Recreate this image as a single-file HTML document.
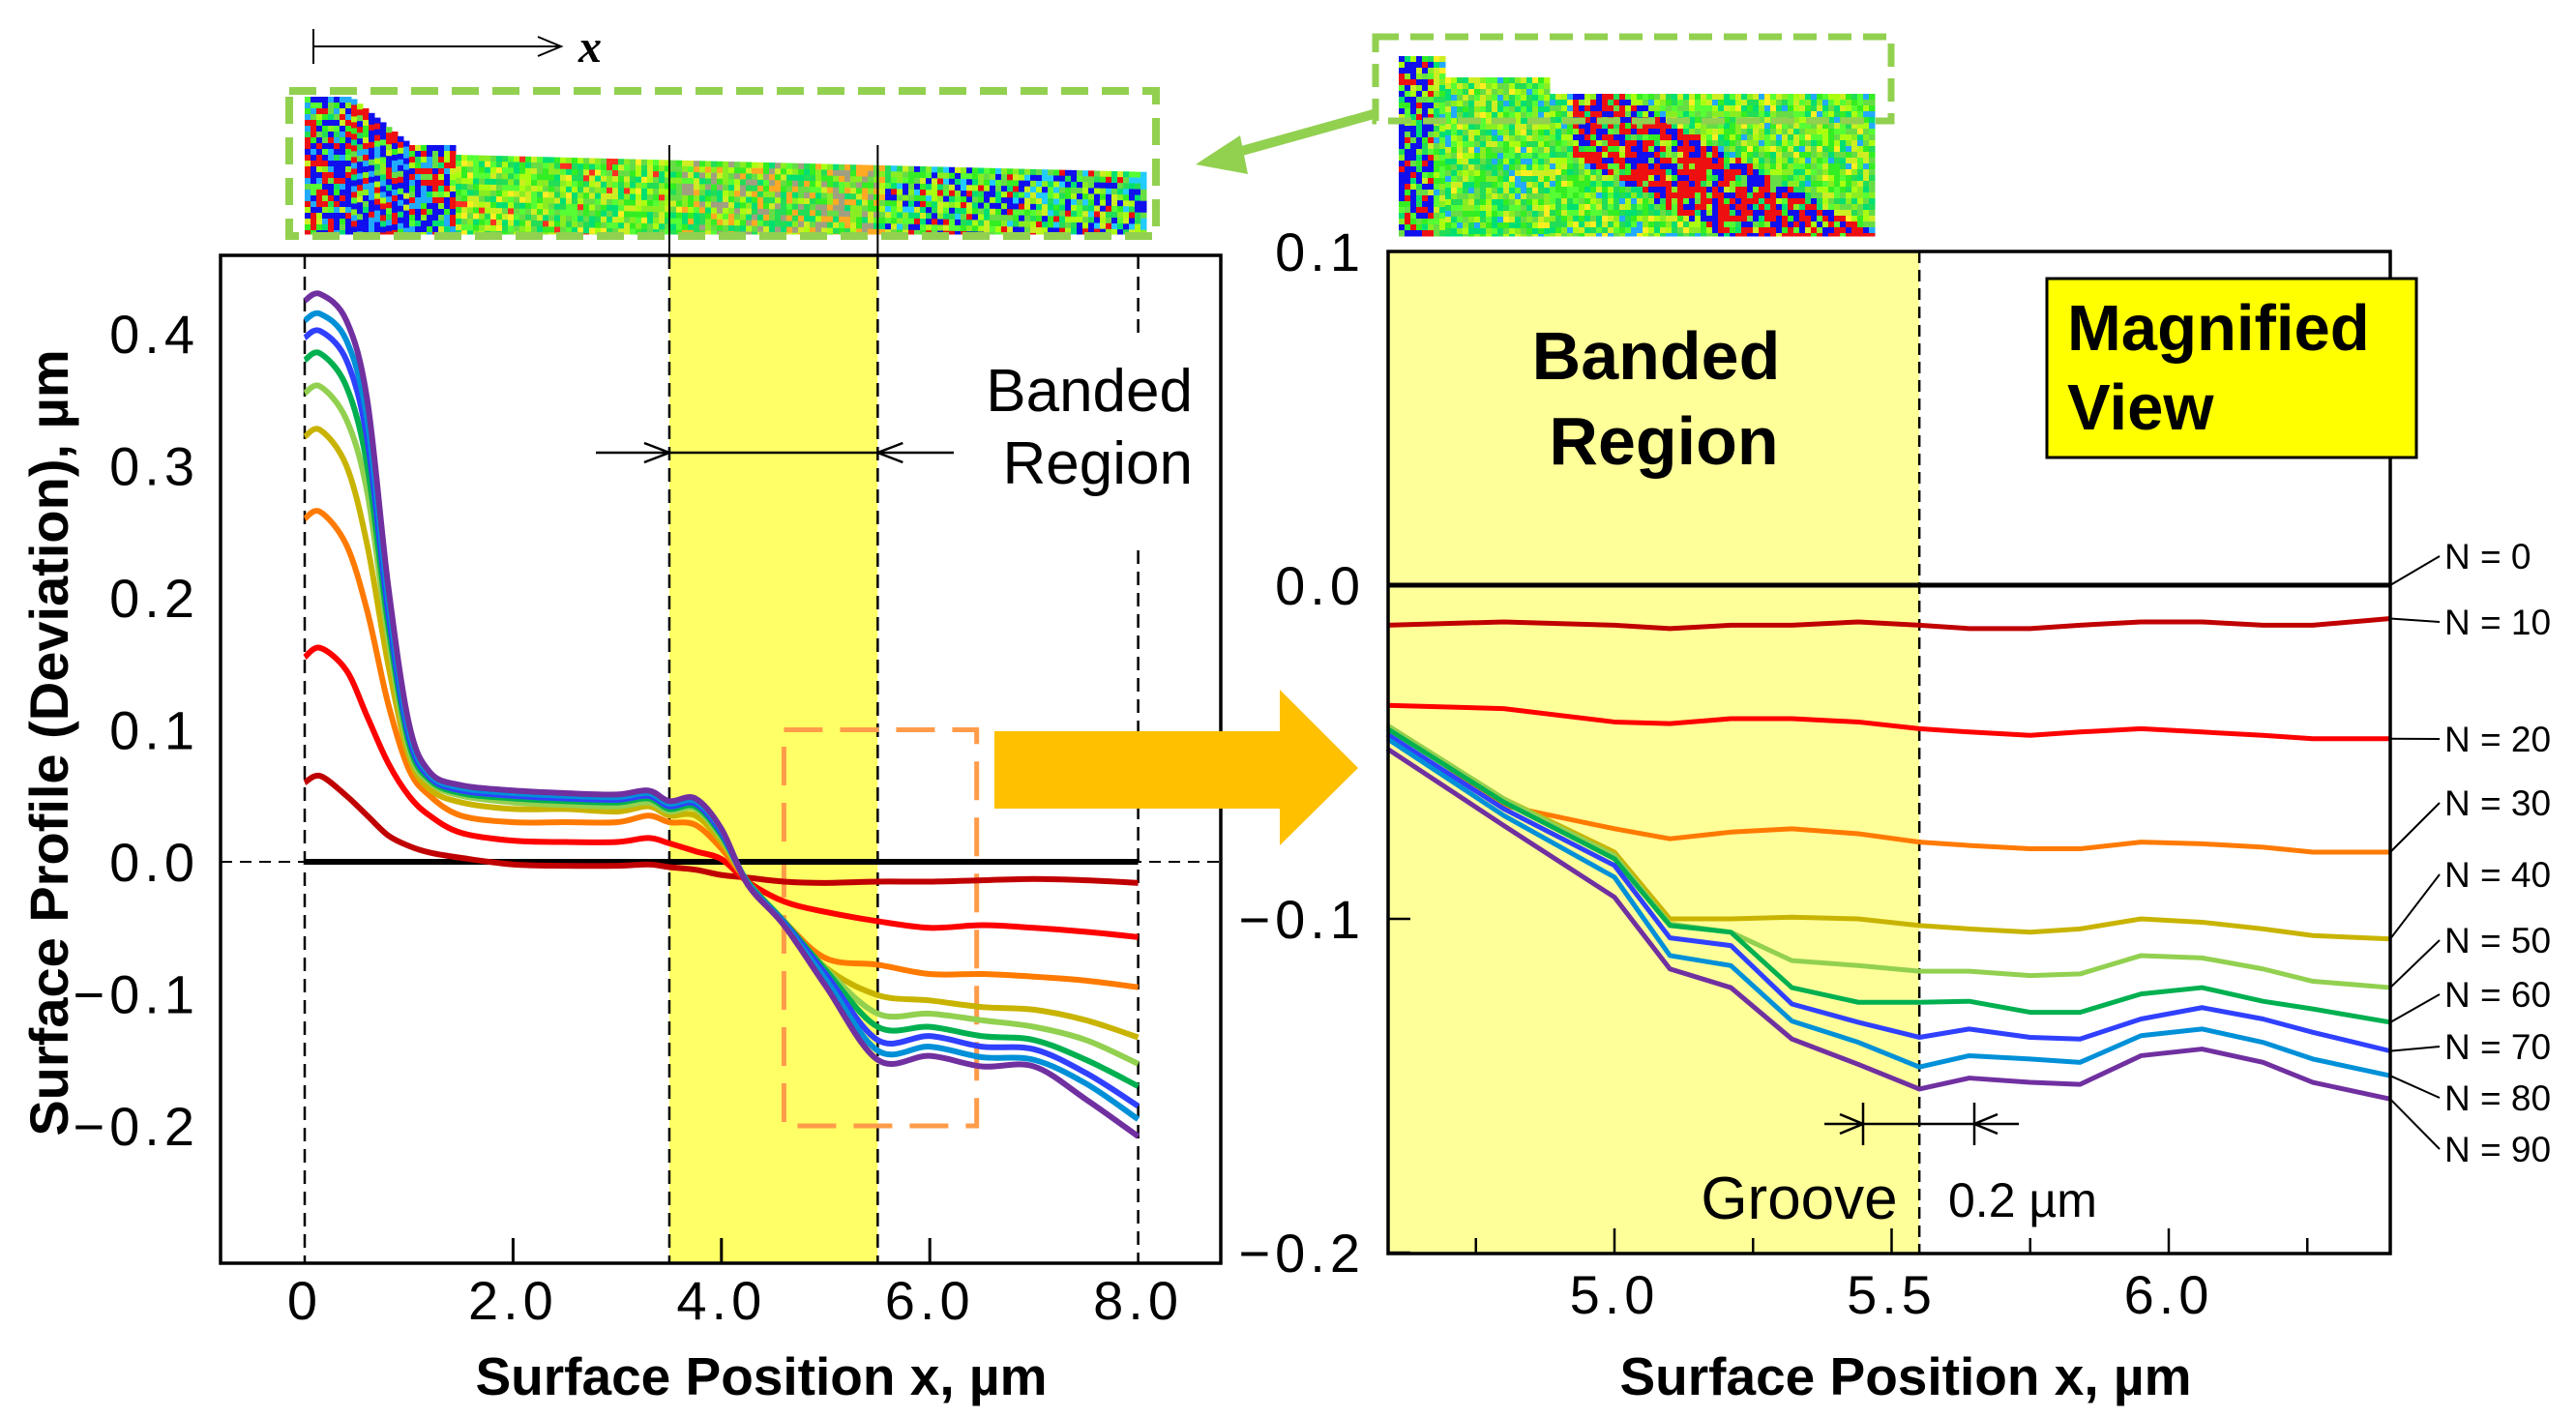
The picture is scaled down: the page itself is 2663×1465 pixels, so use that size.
<!DOCTYPE html>
<html><head><meta charset="utf-8">
<style>
html,body{margin:0;padding:0;background:#fff;}
svg{display:block;font-family:"Liberation Sans",Arial,sans-serif;}
</style></head>
<body>
<svg id="fig" width="2663" height="1465" viewBox="0 0 2663 1465" xmlns="http://www.w3.org/2000/svg">
  <g id="strips"></g>
  <line x1="324" y1="48" x2="578" y2="48" stroke="#000" stroke-width="2"/>
  <line x1="324" y1="30" x2="324" y2="66" stroke="#000" stroke-width="2"/>
  <path d="M556,38 L580,48 L556,58" fill="none" stroke="#000" stroke-width="2"/>
  <text x="598" y="64" font-family="Liberation Serif,serif" font-style="italic" font-weight="bold" font-size="48">x</text>
  <rect x="299" y="94" width="896" height="150" fill="none" stroke="#92d050" stroke-width="8" stroke-dasharray="28,14"/>
  <rect x="1422" y="38" width="533" height="87" fill="none" stroke="#92d050" stroke-width="7" stroke-dasharray="24,12"/>
  <line x1="1420" y1="118" x2="1262" y2="162" stroke="#92d050" stroke-width="10"/>
  <path d="M1236,170 L1282,140 L1290,180 Z" fill="#92d050"/>

  <g id="left"></g>
  <g id="right"></g>

  <path d="M1028,756 L1323,756 L1323,713 L1404,794 L1323,874 L1323,836 L1028,836 Z" fill="#ffc000"/>
</svg>
<script>
// ---------------- LEFT CHART DATA ----------------
const leftX = [0,0.15,0.4,0.6,0.8,1.0,1.2,1.5,2.0,2.5,3.0,3.3,3.5,3.75,4.0,4.25,4.6,5.0,5.5,6.0,6.5,7.0,7.5,8.0];
const leftN10 = [0.06,0.065,0.05,0.035,0.02,0.012,0.007,0.003,-0.002,-0.003,-0.003,-0.002,-0.004,-0.006,-0.01,-0.012,-0.015,-0.016,-0.015,-0.015,-0.014,-0.013,-0.014,-0.016];
const leftN20 = [0.155,0.162,0.145,0.11,0.075,0.05,0.035,0.022,0.016,0.015,0.015,0.018,0.014,0.008,0.002,-0.015,-0.03,-0.038,-0.045,-0.05,-0.048,-0.05,-0.053,-0.057];
const leftN30 = [0.26,0.265,0.24,0.19,0.12,0.07,0.05,0.035,0.03,0.03,0.03,0.035,0.03,0.028,0.01,-0.015,-0.045,-0.073,-0.078,-0.085,-0.085,-0.087,-0.09,-0.095];
const leftN40 = [0.322,0.327,0.3,0.24,0.15,0.08,0.055,0.045,0.04,0.04,0.038,0.042,0.035,0.035,0.015,-0.015,-0.045,-0.08,-0.101,-0.105,-0.11,-0.112,-0.12,-0.133];
const leftN50 = [0.355,0.36,0.335,0.28,0.17,0.085,0.06,0.05,0.045,0.043,0.042,0.045,0.038,0.04,0.018,-0.015,-0.045,-0.081,-0.115,-0.115,-0.12,-0.125,-0.135,-0.153];
const leftN60 = [0.38,0.385,0.36,0.3,0.18,0.09,0.062,0.052,0.048,0.046,0.045,0.048,0.04,0.042,0.02,-0.015,-0.045,-0.082,-0.125,-0.125,-0.132,-0.135,-0.15,-0.17];
const leftN70 = [0.397,0.402,0.38,0.32,0.19,0.095,0.064,0.054,0.05,0.048,0.047,0.05,0.042,0.044,0.022,-0.016,-0.046,-0.085,-0.135,-0.132,-0.14,-0.142,-0.16,-0.185];
const leftN80 = [0.41,0.415,0.395,0.335,0.2,0.1,0.066,0.056,0.052,0.05,0.049,0.052,0.044,0.046,0.024,-0.016,-0.047,-0.089,-0.143,-0.14,-0.148,-0.15,-0.168,-0.195];
const leftN90 = [0.425,0.43,0.41,0.35,0.21,0.105,0.068,0.058,0.054,0.052,0.051,0.054,0.046,0.048,0.025,-0.017,-0.048,-0.094,-0.15,-0.147,-0.155,-0.155,-0.18,-0.208];
const leftYTicks = [0.4,0.3,0.2,0.1,0.0,-0.1,-0.2];
const leftYTickLabels = ["0.4","0.3","0.2","0.1","0.0","\u22120.1","\u22120.2"];
const leftXTicks = [0,2,4,6,8];
const leftXTickLabels = ["0","2.0","4.0","6.0","8.0"];

// ---------------- RIGHT CHART DATA ----------------
const rightX = [4.59,4.80,5.0,5.10,5.21,5.32,5.44,5.55,5.64,5.75,5.84,5.95,6.06,6.17,6.26,6.40];
const rightN10 = [-0.012,-0.011,-0.012,-0.013,-0.012,-0.012,-0.011,-0.012,-0.013,-0.013,-0.012,-0.011,-0.011,-0.012,-0.012,-0.010];
const rightN20 = [-0.036,-0.037,-0.041,-0.0415,-0.040,-0.040,-0.041,-0.043,-0.044,-0.045,-0.044,-0.043,-0.044,-0.045,-0.046,-0.046];
const rightN30 = [-0.042,-0.066,-0.073,-0.076,-0.074,-0.073,-0.0745,-0.077,-0.078,-0.079,-0.079,-0.077,-0.0775,-0.0785,-0.080,-0.080];
const rightN40 = [-0.042,-0.064,-0.080,-0.100,-0.100,-0.0995,-0.100,-0.102,-0.103,-0.104,-0.103,-0.100,-0.101,-0.103,-0.105,-0.106];
const rightN50 = [-0.042,-0.064,-0.081,-0.1015,-0.104,-0.1125,-0.114,-0.1157,-0.1157,-0.117,-0.1165,-0.111,-0.1117,-0.115,-0.1187,-0.1206];
const rightN60 = [-0.043,-0.065,-0.082,-0.102,-0.104,-0.1206,-0.125,-0.125,-0.1247,-0.128,-0.128,-0.1225,-0.1206,-0.1247,-0.127,-0.131];
const rightN70 = [-0.0447,-0.067,-0.084,-0.1057,-0.108,-0.1255,-0.131,-0.1355,-0.133,-0.1355,-0.136,-0.130,-0.1266,-0.130,-0.134,-0.1396];
const rightN80 = [-0.046,-0.069,-0.0875,-0.111,-0.114,-0.1306,-0.137,-0.1444,-0.141,-0.142,-0.143,-0.135,-0.133,-0.137,-0.142,-0.147];
const rightN90 = [-0.049,-0.072,-0.0935,-0.115,-0.1206,-0.136,-0.1436,-0.151,-0.1477,-0.149,-0.1496,-0.141,-0.139,-0.143,-0.149,-0.154];
const rightYTicks = [0.1,0.0,-0.1,-0.2];
const rightYTickLabels = ["0.1","0.0","\u22120.1","\u22120.2"];
const rightXTicks = [4.75,5.0,5.25,5.5,5.75,6.0,6.25];
const rightXTickLabels = ["","5.0","","5.5","","6.0",""];
const seriesNames = ["N = 0","N = 10","N = 20","N = 30","N = 40","N = 50","N = 60","N = 70","N = 80","N = 90"];
const labelY = [575,643,764,830,904,972,1028,1082,1135,1188];

const colors = ["#000000","#c00000","#ff0000","#ff7a00","#c8b400","#92d050","#00b050","#3040ff","#0090d8","#7030a0"];
const NS = "http://www.w3.org/2000/svg";
function mk(parent, tag, attrs, txt){const e=document.createElementNS(NS,tag);for(const k in attrs)e.setAttribute(k,attrs[k]);if(txt!==undefined)e.textContent=txt;parent.appendChild(e);return e;}

// ---------- LEFT ----------
const L = document.getElementById('left');
const lx = v => 315 + v*107.7;
const ly = v => 891 - v*1365;
let e;
e = mk(L,'rect',{x:lx(3.5),y:264,width:lx(5.5)-lx(3.5),height:1306-264,fill:'#ffff66'});


[[0,264,1306],[3.5,264,1306],[5.5,264,1306]].forEach(d=>{
  e=mk(L,'line',{x1:lx(d[0]),y1:d[1],x2:lx(d[0]),y2:d[2],stroke:'#000','stroke-width':2.5,'stroke-dasharray':'14,8'});
  
  
});
[[264,348],[569,1306]].forEach(s=>{
  e=mk(L,'line',{x1:lx(8),y1:s[0],x2:lx(8),y2:s[1],stroke:'#000','stroke-width':2.5,'stroke-dasharray':'14,8'});
  
  
});
[3.5,5.5].forEach(v=>{
  e=mk(L,'line',{x1:lx(v),y1:150,x2:lx(v),y2:264,stroke:'#000','stroke-width':2});
  
  
});
e=mk(L,'line',{x1:228,y1:ly(0),x2:1262,y2:ly(0),stroke:'#000','stroke-width':2,'stroke-dasharray':'12,8'});


e=mk(L,'rect',{x:lx(4.6),y:ly(0.1),width:lx(6.45)-lx(4.6),height:ly(-0.2)-ly(0.1),fill:'none',stroke:'#ff9c4a','stroke-width':5,'stroke-dasharray':'40,18'});


function smooth(xs,ys,fx,fy){
  const p=xs.map((x,i)=>[fx(x),fy(ys[i])]);
  let d=`M${p[0][0]},${p[0][1]}`;
  for(let i=0;i<p.length-1;i++){
    const p0=p[Math.max(0,i-1)],p1=p[i],p2=p[i+1],p3=p[Math.min(p.length-1,i+2)];
    const c1=[p1[0]+(p2[0]-p0[0])/6,p1[1]+(p2[1]-p0[1])/6];
    const c2=[p2[0]-(p3[0]-p1[0])/6,p2[1]-(p3[1]-p1[1])/6];
    d+=` C${c1[0]},${c1[1]} ${c2[0]},${c2[1]} ${p2[0]},${p2[1]}`;
  }
  return d;
}
const leftSeries=[leftN10,leftN20,leftN30,leftN40,leftN50,leftN60,leftN70,leftN80,leftN90];
e=mk(L,'line',{x1:lx(0),y1:ly(0),x2:lx(8),y2:ly(0),stroke:'#000','stroke-width':6});


leftSeries.forEach((s,i)=>{
  e=mk(L,'path',{d:smooth(leftX,s,lx,ly),fill:'none',stroke:colors[i+1],'stroke-width':6,'stroke-linejoin':'round'});
  
  
});
e=mk(L,'rect',{x:228,y:264,width:1034,height:1042,fill:'none',stroke:'#000','stroke-width':3.5});


leftXTicks.forEach((t,i)=>{
  if(t>0&&t<8){e=mk(L,'line',{x1:lx(t),y1:1306,x2:lx(t),y2:1280,stroke:'#000','stroke-width':3});
  
  }
  e=mk(L,'text',{x:lx(t),y:1364,'font-size':56,'letter-spacing':5,'text-anchor':'middle'},leftXTickLabels[i]);
  
  
});
leftYTicks.forEach((t,i)=>{
  e=mk(L,'text',{x:206,y:ly(t)+20,'font-size':56,'letter-spacing':5,'text-anchor':'end'},leftYTickLabels[i]);
  
  
});
e=mk(L,'text',{x:787,y:1442,'font-size':55,'font-weight':'bold','text-anchor':'middle'},'Surface Position x, \u00b5m');


e=mk(L,'text',{x:0,y:0,'font-size':56,'font-weight':'bold','text-anchor':'middle',transform:'translate(70,768) rotate(-90)'},'Surface Profile (Deviation), \u00b5m');


e=mk(L,'text',{x:1233,y:425,'font-size':62,'text-anchor':'end'},'Banded');


e=mk(L,'text',{x:1233,y:500,'font-size':62,'text-anchor':'end'},'Region');


e=mk(L,'line',{x1:616,y1:468,x2:986,y2:468,stroke:'#000','stroke-width':2.5});


e=mk(L,'path',{d:`M${lx(3.5)-26},458 L${lx(3.5)},468 L${lx(3.5)-26},478 M${lx(5.5)+26},458 L${lx(5.5)},468 L${lx(5.5)+26},478`,fill:'none',stroke:'#000','stroke-width':2.5});



// ---------- RIGHT ----------
const R=document.getElementById('right');
const rx=v=>1669+(v-5.0)*573;
const ry=v=>605-v*3450;
e=mk(R,'rect',{x:1435,y:260,width:rx(5.55)-1435,height:1296-260,fill:'#ffff99'});


e=mk(R,'line',{x1:rx(5.55),y1:260,x2:rx(5.55),y2:1296,stroke:'#000','stroke-width':2.5,'stroke-dasharray':'12,7'});


e=mk(R,'line',{x1:1435,y1:ry(0),x2:2471,y2:ry(0),stroke:'#000','stroke-width':5});


const rightSeries=[rightN10,rightN20,rightN30,rightN40,rightN50,rightN60,rightN70,rightN80,rightN90];
rightSeries.forEach((s,i)=>{
  const pts=rightX.map((x,j)=>rx(x)+','+ry(s[j])).join(' ');
  e=mk(R,'polyline',{points:pts,fill:'none',stroke:colors[i+1],'stroke-width':5,'stroke-linejoin':'round'});
  
  
});
const ends=[0].concat(rightSeries.map(s=>s[s.length-1]));
ends.forEach((v,i)=>{
  e=mk(R,'line',{x1:2471,y1:ry(v),x2:2522,y2:labelY[i],stroke:'#000','stroke-width':2});
  
  
  e=mk(R,'text',{x:2527,y:labelY[i]+13,'font-size':37},seriesNames[i]);
  
  
});
e=mk(R,'rect',{x:1435,y:260,width:1036,height:1036,fill:'none',stroke:'#000','stroke-width':3.5});


rightXTicks.forEach((t,i)=>{
  e=mk(R,'line',{x1:rx(t),y1:1296,x2:rx(t),y2:rightXTickLabels[i]?1270:1280,stroke:'#000','stroke-width':2.5});
  
  
  if(rightXTickLabels[i]){e=mk(R,'text',{x:rx(t),y:1358,'font-size':56,'letter-spacing':5,'text-anchor':'middle'},rightXTickLabels[i]);
  
  }
});
rightYTicks.forEach((t,i)=>{
  e=mk(R,'line',{x1:1435,y1:ry(t),x2:1458,y2:ry(t),stroke:'#000','stroke-width':2.5});
  
  
  e=mk(R,'text',{x:1411,y:ry(t)+20,'font-size':56,'letter-spacing':5,'text-anchor':'end'},rightYTickLabels[i]);
  
  
});
e=mk(R,'text',{x:1970,y:1442,'font-size':55,'font-weight':'bold','text-anchor':'middle'},'Surface Position x, \u00b5m');


e=mk(R,'text',{x:1712,y:392,'font-size':70,'font-weight':'bold','text-anchor':'middle'},'Banded');


e=mk(R,'text',{x:1720,y:480,'font-size':70,'font-weight':'bold','text-anchor':'middle'},'Region');


e=mk(R,'rect',{x:2116,y:288,width:382,height:185,fill:'#ffff00',stroke:'#000','stroke-width':3});


e=mk(R,'text',{x:2137,y:362,'font-size':67,'font-weight':'bold'},'Magnified');


e=mk(R,'text',{x:2137,y:444,'font-size':67,'font-weight':'bold'},'View');


e=mk(R,'path',{d:'M1886,1162 L2087,1162 M1926,1140 L1926,1184 M2041,1140 L2041,1184 M1902,1152 L1926,1162 L1902,1172 M2065,1152 L2041,1162 L2065,1172',fill:'none',stroke:'#000','stroke-width':2.5});


e=mk(R,'text',{x:1860,y:1260,'font-size':62,'text-anchor':'middle'},'Groove');


e=mk(R,'text',{x:2014,y:1258,'font-size':50},'0.2 \u00b5m');



// ---------- decorative micrograph strips ----------
const S=document.getElementById('strips');
function h(a,b){let n=(a*374761393+b*668265263)|0;n=(n^(n>>>13))*1274126177|0;return ((n^(n>>>16))>>>0)/4294967296;}
function strip(x0,x1,topFn,bot,cell,colFn,name){
  const g=mk(S,'g',{});
  
  
  for(let x=x0;x<x1;x+=cell){const t=topFn(x);for(let y=t;y<bot;y+=cell){
    mk(g,'rect',{x:x,y:y,width:cell+0.5,height:Math.min(cell,bot-y)+0.5,fill:colFn(x,y,h(x,y))});}}
}
const greens=['#33ee22','#55ff33','#22dd55','#88ee22','#aaff11','#00e070','#66dd44','#ccee22'];
strip(315,1182,x=>x<360?100:(x<420?100+(x-360)*0.8:(x<470?150:160+(x-470)*0.025)),242,6,(x,y,r)=>{
  if(x<470){ if(r<0.35)return '#1010ee'; if(r<0.55)return '#ee1010'; if(r<0.7)return '#22aaff'; }
  if(x>=700&&x<915&&r<0.3)return r<0.15?'#a0a080':'#ffaa22';
  if(x>=915){ if(r<0.2)return '#1010ee'; if(r<0.28)return '#ee1010'; if(r<0.36)return '#22ccff';}
  if(r<0.05)return '#ff3020'; if(r<0.09)return '#ffee22';
  return greens[Math.floor(r*97)%greens.length];
},'left-micrograph');
strip(1446,1934,x=>x<1490?58:(x<1600?80:97),244,6,(x,y,r)=>{
  const d=(y-100)-(x-1600)*0.55;
  if(Math.abs(d)<45&&x>1620){ if(r<0.45)return '#ee1010'; if(r<0.75)return '#1010ee';}
  if(x<1480){ if(r<0.4)return '#1010ee'; if(r<0.55)return '#ee1010';}
  if(r<0.06)return '#22aaff'; if(r<0.1)return '#ffee22';
  return greens[Math.floor(r*97)%greens.length];
},'right-micrograph');
</script>
</body></html>
